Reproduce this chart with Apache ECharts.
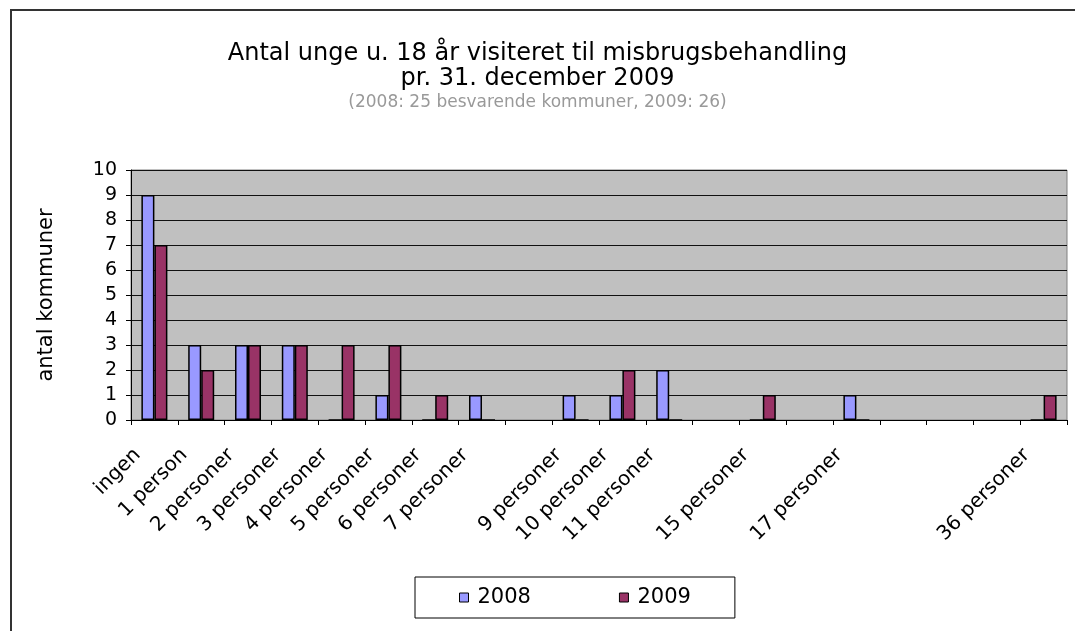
<!DOCTYPE html>
<html>
<head>
<meta charset="utf-8">
<script src="https://cdn.jsdelivr.net/npm/echarts@6/dist/echarts.min.js"></script>
<style>
  html, body { margin: 0; padding: 0; background: #fff; }
  #chart { width: 1075px; height: 631px; }
</style>
</head>
<body>
<div id="chart"></div>
<script>
// kategorier (tomme pladser som i originalen)
var categories = ['ingen', '1 person', '2 personer', '3 personer', '4 personer', '5 personer',
  '6 personer', '7 personer', '', '9 personer', '10 personer', '11 personer', '',
  '15 personer', '', '17 personer', '', '', '', '36 personer'];
var values2008 = [9, 3, 3, 3, 0, 1, 0, 1, null, 1, 1, 2, null, 0, null, 1, null, null, null, 0];
var values2009 = [7, 2, 3, 3, 3, 3, 1, 0, null, 0, 2, 0, null, 1, null, 0, null, null, null, 1];
var yTicks = { min: 0, max: 10, interval: 1 };

var font = 'DejaVu Sans';
var myChart = echarts.init(document.getElementById('chart'));

var option = {
  animation: false,
  backgroundColor: '#fff',
  textStyle: { fontFamily: font },
  title: {
    left: 'center',
    top: 36,
    itemGap: 1,
    text: 'Antal unge u. 18 år visiteret til misbrugsbehandling\npr. 31. december 2009',
    textStyle: { fontFamily: font, fontSize: 24, fontWeight: 'normal', color: '#000', lineHeight: 25 },
    subtext: '(2008: 25 besvarende kommuner, 2009: 26)',
    subtextStyle: { fontFamily: font, fontSize: 17, color: '#999', lineHeight: 22 }
  },
  legend: {
    left: 415,
    top: 577,
    padding: [10, 44, 10, 44],
    itemGap: 88,
    itemWidth: 9,
    itemHeight: 9,
    icon: 'rect',
    borderColor: '#000',
    borderWidth: 1,
    itemStyle: { borderColor: '#000', borderWidth: 1 },
    textStyle: { fontFamily: font, fontSize: 21, color: '#000', padding: [0, 0, 0, 4] },
    data: ['2008', '2009']
  },
  grid: {
    left: 131,
    right: 8,
    top: 170,
    bottom: 211,
    show: true,
    backgroundColor: '#C0C0C0',
    borderColor: '#808080',
    borderWidth: 1
  },
  graphic: [{
    type: 'rect',
    shape: { x: 11, y: 10, width: 1200, height: 800 },
    style: { fill: null, stroke: '#333', lineWidth: 2 },
    silent: true
  }],
  xAxis: {
    type: 'category',
    data: categories,
    boundaryGap: true,
    axisLine: { lineStyle: { color: '#000', width: 1 } },
    axisTick: { show: true, interval: 0, length: 5, lineStyle: { color: '#000' } },
    axisLabel: {
      interval: 0,
      rotate: 45,
      margin: 15,
      padding: [0, 24, 0, 0],
      fontFamily: font,
      fontSize: 20,
      color: '#000'
    },
    splitLine: { show: false }
  },
  yAxis: {
    type: 'value',
    min: yTicks.min,
    max: yTicks.max,
    interval: yTicks.interval,
    name: 'antal kommuner',
    nameLocation: 'middle',
    nameRotate: 90,
    nameGap: 74,
    nameTextStyle: { fontFamily: font, fontSize: 21, color: '#000' },
    axisLine: { show: true, lineStyle: { color: '#000', width: 1 } },
    axisTick: { show: true, length: 5, lineStyle: { color: '#000' } },
    axisLabel: { fontFamily: font, fontSize: 19, color: '#000', margin: 14 },
    splitLine: { show: true, lineStyle: { color: '#111', width: 1 } }
  },
  series: [
    {
      name: '2008',
      type: 'bar',
      data: values2008,
      barWidth: 13,
      barGap: '0%',
      itemStyle: { color: '#9999FF', borderColor: '#000', borderWidth: 1.5 }
    },
    {
      name: '2009',
      type: 'bar',
      data: values2009,
      barWidth: 13,
      barGap: '0%',
      itemStyle: { color: '#993366', borderColor: '#000', borderWidth: 1.5 }
    }
  ]
};

myChart.setOption(option);
</script>
</body>
</html>
